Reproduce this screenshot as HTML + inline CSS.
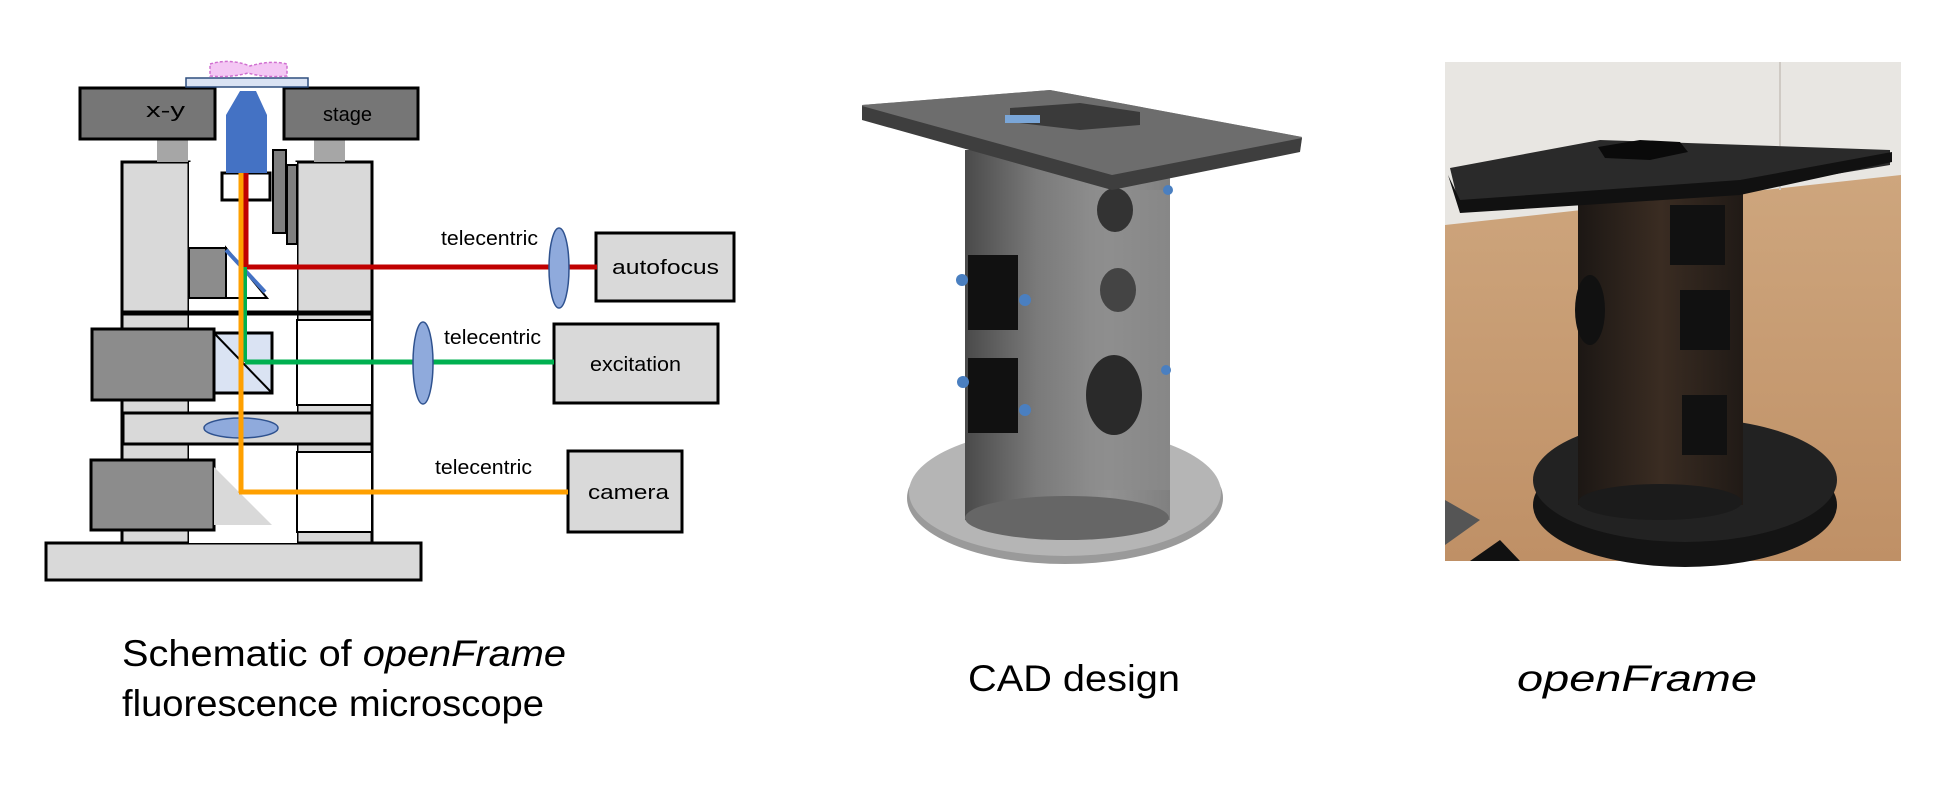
<!DOCTYPE html>
<html><head><meta charset="utf-8"><style>
html,body{margin:0;padding:0;background:#fff;}
svg{display:block;}
text{font-family:"Liberation Sans",sans-serif;}
</style></head><body>
<svg width="1934" height="794" viewBox="0 0 1934 794" xmlns="http://www.w3.org/2000/svg">
<defs>
<linearGradient id="col" x1="0" x2="1" y1="0" y2="0">
<stop offset="0" stop-color="#4a4a4a"/><stop offset="0.35" stop-color="#7a7a7a"/><stop offset="0.7" stop-color="#929292"/><stop offset="1" stop-color="#808080"/></linearGradient>
<linearGradient id="floor" x1="0" x2="0" y1="0" y2="1">
<stop offset="0" stop-color="#d2ac84"/><stop offset="1" stop-color="#bf9066"/></linearGradient>
<linearGradient id="bcol" x1="0" x2="1">
<stop offset="0" stop-color="#1c1714"/><stop offset="0.5" stop-color="#3a2c22"/><stop offset="1" stop-color="#201a16"/></linearGradient>
</defs>

<!-- ===== Schematic ===== -->
<g stroke="#000" stroke-width="3">
<rect x="46" y="543" width="375" height="37" fill="#d9d9d9"/>
<rect x="122" y="162" width="67" height="381" fill="#d9d9d9"/>
<rect x="297" y="162" width="75" height="381" fill="#d9d9d9"/>
<rect x="189" y="162" width="108" height="381" fill="#fff" stroke="none"/>
<rect x="297" y="320" width="75" height="85" fill="#fff" stroke-width="2"/>
<rect x="297" y="452" width="75" height="80" fill="#fff" stroke-width="2"/>
<line x1="122" y1="313" x2="372" y2="313" stroke-width="5"/>
<rect x="123" y="413" width="249" height="31" fill="#d9d9d9"/>
<rect x="157" y="139" width="31" height="23" fill="#a6a6a6" stroke="none"/>
<rect x="314" y="139" width="31" height="23" fill="#a6a6a6" stroke="none"/>
<rect x="80" y="88" width="135" height="51" fill="#767676"/>
<rect x="284" y="88" width="134" height="51" fill="#767676"/>
<rect x="186" y="78" width="122" height="9" fill="#dae3f3" stroke="#2f4f7f" stroke-width="1.5"/>
<rect x="273" y="150" width="13" height="83" fill="#7f7f7f" stroke-width="2"/>
<rect x="287" y="165" width="10" height="79" fill="#7f7f7f" stroke-width="2"/>
<rect x="222" y="173" width="48" height="27" fill="#fff"/>
<rect x="189" y="248" width="37" height="50" fill="#8c8c8c" stroke-width="2"/>
<polygon points="226,248 226,298 267,298" fill="#fff" stroke-width="2"/>
<line x1="226" y1="250" x2="265" y2="292" stroke="#4472c4" stroke-width="4"/>
<rect x="92" y="329" width="122" height="71" fill="#8c8c8c"/>
<rect x="214" y="333" width="58" height="60" fill="#dae3f3"/>
<line x1="214" y1="333" x2="272" y2="393" stroke-width="2"/>
<rect x="91" y="460" width="123" height="70" fill="#8c8c8c"/>
<polygon points="214,467 214,525 272,525" fill="#d9d9d9" stroke="none"/>
<rect x="596" y="233" width="138" height="68" fill="#d9d9d9"/>
<rect x="554" y="324" width="164" height="79" fill="#d9d9d9"/>
<rect x="568" y="451" width="114" height="81" fill="#d9d9d9"/>
</g>
<path d="M210 64 Q230 58 250 66 Q270 60 287 64 L287 76 Q265 78 248 73 Q230 78 210 76 Z" fill="#f4c7f4" stroke="#d070d0" stroke-width="1.5" stroke-dasharray="3,2"/>
<polygon points="240,91 256,91 267,115 267,173 226,173 226,115" fill="#4472c4"/>
<ellipse cx="241" cy="428" rx="37" ry="10" fill="#8faadc" stroke="#2f528f" stroke-width="1.5"/>
<line x1="246" y1="173" x2="246" y2="267" stroke="#c00000" stroke-width="5"/>
<line x1="246" y1="267" x2="597" y2="267" stroke="#c00000" stroke-width="5"/>
<line x1="245" y1="267" x2="245" y2="362" stroke="#00b050" stroke-width="4"/>
<line x1="245" y1="362" x2="554" y2="362" stroke="#00b050" stroke-width="5"/>
<line x1="241" y1="173" x2="241" y2="493" stroke="#ffa000" stroke-width="5"/>
<line x1="239" y1="492" x2="568" y2="492" stroke="#ffa000" stroke-width="5"/>
<ellipse cx="559" cy="268" rx="10" ry="40" fill="#8faadc" stroke="#2f528f" stroke-width="1.5"/>
<ellipse cx="423" cy="363" rx="10" ry="41" fill="#8faadc" stroke="#2f528f" stroke-width="1.5"/>
<g font-size="20" fill="#000">
<text x="146" y="117" textLength="39" lengthAdjust="spacingAndGlyphs">x-y</text>
<text x="323" y="121" textLength="49" lengthAdjust="spacingAndGlyphs">stage</text>
<text x="441" y="245" textLength="97" lengthAdjust="spacingAndGlyphs">telecentric</text>
<text x="444" y="344" textLength="97" lengthAdjust="spacingAndGlyphs">telecentric</text>
<text x="435" y="474" textLength="97" lengthAdjust="spacingAndGlyphs">telecentric</text>
<text x="612" y="274" textLength="107" lengthAdjust="spacingAndGlyphs">autofocus</text>
<text x="590" y="371" textLength="91" lengthAdjust="spacingAndGlyphs">excitation</text>
<text x="588" y="499" textLength="81" lengthAdjust="spacingAndGlyphs">camera</text>
</g>

<!-- ===== CAD ===== -->
<ellipse cx="1065" cy="498" rx="158" ry="66" fill="#9a9a9a"/>
<ellipse cx="1065" cy="492" rx="156" ry="64" fill="#b5b5b5"/>
<rect x="965" y="150" width="205" height="370" fill="url(#col)"/>
<ellipse cx="1067" cy="518" rx="102" ry="22" fill="#666"/>
<rect x="968" y="255" width="50" height="75" fill="#111"/>
<rect x="968" y="358" width="50" height="75" fill="#111"/>
<rect x="1085" y="190" width="85" height="300" fill="#8c8c8c" opacity="0.6"/>
<ellipse cx="1115" cy="210" rx="18" ry="22" fill="#333"/>
<ellipse cx="1118" cy="290" rx="18" ry="22" fill="#444"/>
<ellipse cx="1114" cy="395" rx="28" ry="40" fill="#2a2a2a"/>
<g fill="#4a7fc0"><circle cx="962" cy="280" r="6"/><circle cx="1025" cy="300" r="6"/><circle cx="963" cy="382" r="6"/><circle cx="1025" cy="410" r="6"/><circle cx="1168" cy="190" r="5"/><circle cx="1166" cy="370" r="5"/></g>
<polygon points="862,105 1050,90 1302,137 1112,187 862,118" fill="#7f7f7f"/>
<polygon points="862,105 1050,90 1302,137 1300,150 1112,185 864,112" fill="#6d6d6d"/>
<polygon points="862,106 1112,175 1302,138 1300,152 1112,190 862,120" fill="#3e3e3e"/>
<polygon points="1010,108 1080,103 1140,112 1140,125 1080,130 1010,122" fill="#3a3a3a"/>
<rect x="1005" y="115" width="35" height="8" fill="#7aa6d8"/>

<!-- ===== Photo ===== -->
<rect x="1445" y="62" width="456" height="499" fill="url(#floor)"/>
<polygon points="1445,62 1901,62 1901,175 1445,225" fill="#e8e6e2"/>
<line x1="1780" y1="62" x2="1780" y2="190" stroke="#cfcac4" stroke-width="2"/>
<ellipse cx="1685" cy="505" rx="152" ry="62" fill="#141414"/>
<ellipse cx="1685" cy="480" rx="152" ry="62" fill="#222"/>
<rect x="1578" y="175" width="165" height="330" fill="url(#bcol)"/>
<ellipse cx="1660" cy="502" rx="82" ry="18" fill="#1b1b1b"/>
<rect x="1670" y="205" width="55" height="60" fill="#111"/>
<rect x="1680" y="290" width="50" height="60" fill="#111"/>
<rect x="1682" y="395" width="45" height="60" fill="#111"/>
<ellipse cx="1590" cy="310" rx="15" ry="35" fill="#111"/>
<polygon points="1450,168 1600,140 1890,150 1890,165 1740,190 1460,210" fill="#2a2a2a"/>
<polygon points="1448,175 1460,200 1740,180 1892,152 1892,162 1740,195 1460,213" fill="#111"/>
<polygon points="1598,147 1640,140 1680,142 1688,152 1650,160 1605,158" fill="#0a0a0a"/>
<polygon points="1445,500 1480,520 1445,545" fill="#555"/>
<polygon points="1470,561 1500,540 1520,561" fill="#111"/>

<!-- captions -->
<g font-size="37" fill="#000">
<text x="122" y="666" textLength="444" lengthAdjust="spacingAndGlyphs">Schematic of <tspan font-style="italic">openFrame</tspan></text>
<text x="122" y="716" textLength="422" lengthAdjust="spacingAndGlyphs">fluorescence microscope</text>
<text x="968" y="691" textLength="212" lengthAdjust="spacingAndGlyphs">CAD design</text>
<text x="1517" y="691" font-style="italic" textLength="240" lengthAdjust="spacingAndGlyphs">openFrame</text>
</g>
</svg>
</body></html>
